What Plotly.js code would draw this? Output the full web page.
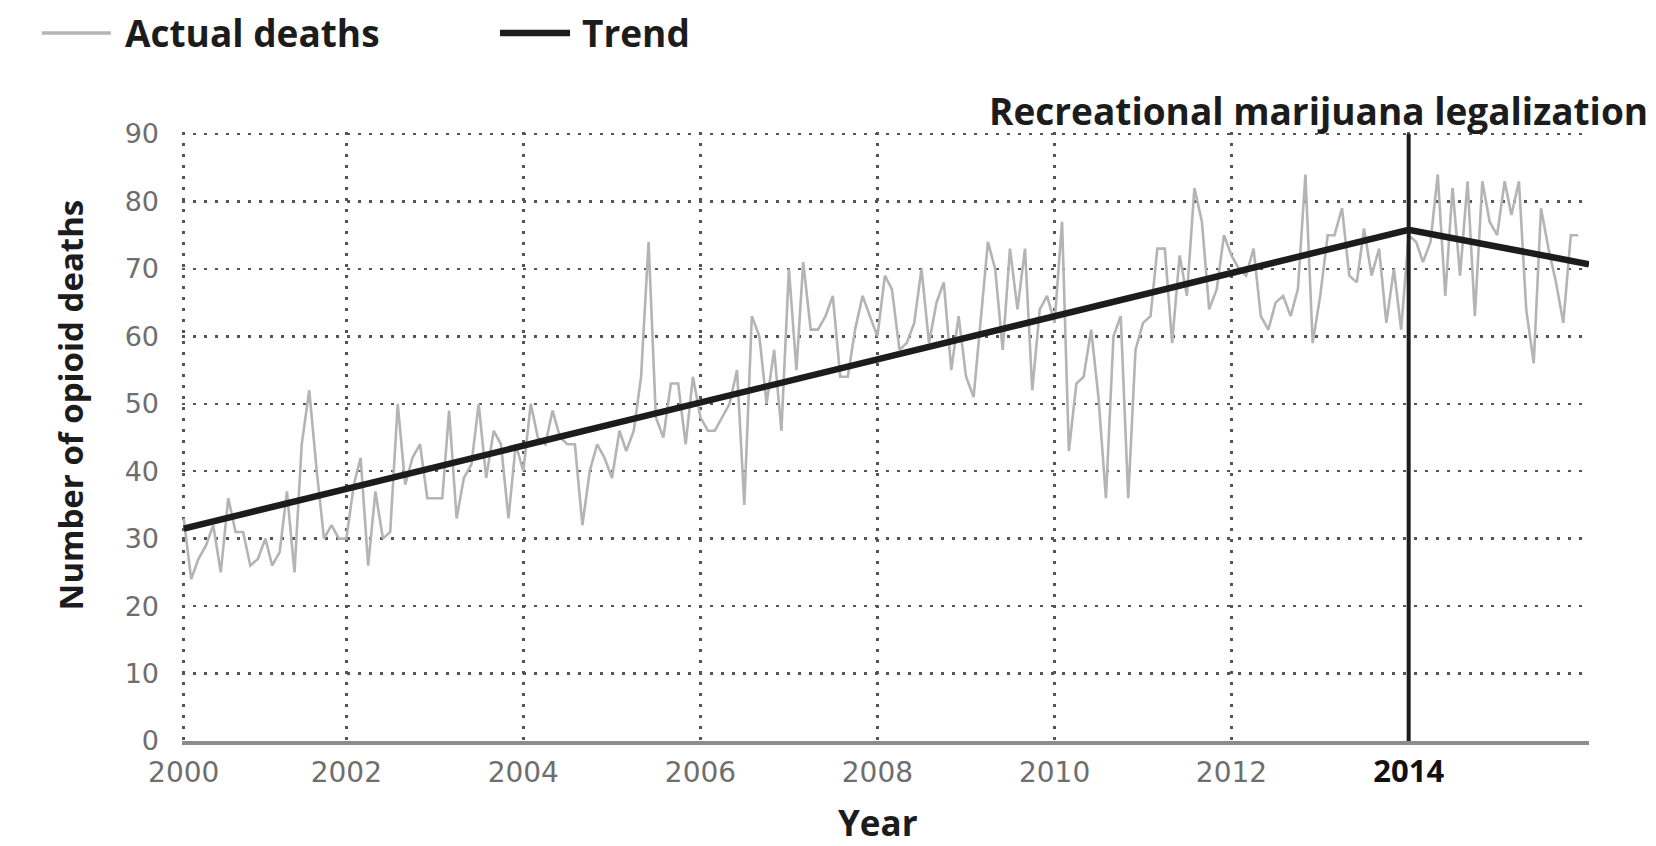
<!DOCTYPE html>
<html>
<head>
<meta charset="utf-8">
<script src="https://cdn.plot.ly/plotly-3.0.1.min.js"></script>
<style>
  html, body { margin: 0; padding: 0; background: #ffffff; }
  #chart { width: 1656px; height: 846px; }
</style>
</head>
<body>
<div id="chart"></div>
<script>
// ---- Data (monthly opioid deaths, first value March 2000) ----
const firstMonth = '2000-03';
const actualDeaths = [
  33, 24, 27, 29, 32, 25, 36, 31, 31, 26, 27, 30, 26, 28, 37, 25, 44, 52, 40, 30, 32, 30,
  30, 38, 42, 26, 37, 30, 31, 50, 38, 42, 44, 36, 36, 36, 49, 33, 39, 41, 50, 39, 46, 44, 33, 44,
  40, 50, 45, 44, 49, 45, 44, 44, 32, 40, 44, 42, 39, 46, 43, 46, 54, 74, 48, 45, 53, 53, 44, 54,
  48, 46, 46, 48, 50, 55, 35, 63, 60, 50, 58, 46, 70, 55, 71, 61, 61, 63, 66, 54, 54, 61, 66, 63,
  60, 69, 67, 58, 59, 62, 70, 59, 65, 68, 55, 63, 54, 51, 62, 74, 70, 58, 73, 64, 73, 52, 64, 66,
  62, 77, 43, 53, 54, 61, 51, 36, 60, 63, 36, 58, 62, 63, 73, 73, 59, 72, 66, 82, 77, 64, 67, 75,
  72, 70, 69, 73, 63, 61, 65, 66, 63, 67, 84, 59, 66, 75, 75, 79, 69, 68, 76, 69, 73, 62, 70, 61,
  75, 74, 71, 74, 84, 66, 82, 69, 83, 63, 83, 77, 75, 83, 78, 83, 64, 56, 79, 73, 68, 62, 75, 75
];
const trendDates = ['2000-03-01', '2014-01-01', '2016-01-15'];
const trendValues = [31.5, 75.8, 70.7];
const legalizationDate = '2014-01-01';
const legalizationLabel = 'Recreational marijuana legalization';
const seriesNames = ['Actual deaths', 'Trend'];
const tickDates = ['2000-03-01', '2002-01-01', '2004-01-01', '2006-01-01', '2008-01-01', '2010-01-01', '2012-01-01', '2014-01-01'];
const tickYears = ['2000', '2002', '2004', '2006', '2008', '2010', '2012', '2014'];
const yTicks = [0, 10, 20, 30, 40, 50, 60, 70, 80, 90];
const xTitle = 'Year';
const yTitle = 'Number of opioid deaths';

// month categories derived from the first month
const [fy, fm] = firstMonth.split('-').map(Number);
const months = actualDeaths.map((_, k) => {
  const t = fm - 1 + k;
  return (fy + Math.floor(t / 12)) + '-' + String((t % 12) + 1).padStart(2, '0') + '-01';
});

const boldFont = 'Open Sans, Liberation Sans, Arial, sans-serif';
const lightFont = 'DejaVu Sans, sans-serif';
const dark = '#1c1c1c';

const traces = [
  {
    x: months, y: actualDeaths, name: seriesNames[0], type: 'scatter', mode: 'lines',
    line: { color: '#b4b4b4', width: 2.6 }, showlegend: false, hoverinfo: 'x+y'
  },
  {
    x: trendDates, y: trendValues, name: seriesNames[1], type: 'scatter', mode: 'lines',
    line: { color: dark, width: 6.5 }, showlegend: false
  }
];

const tickText = tickYears.map(t => t === '2014'
  ? '<span style="font-family:Open Sans, Arial;font-weight:bold;font-size:31px;fill:#111111">' + t + '</span>'
  : t);

// plot area: x 182..1589 px, y 132..741 px
const legendY = 1.1626;
const layout = {
  width: 1656, height: 846,
  margin: { l: 182, r: 67, t: 132, b: 105, pad: 0 },
  paper_bgcolor: '#ffffff', plot_bgcolor: '#ffffff',
  showlegend: false,
  xaxis: {
    type: 'date',
    range: ['2000-02-23', '2016-01-15'],
    tickmode: 'array', tickvals: tickDates, ticktext: tickText,
    ticks: '', ticklabelstandoff: 4,
    tickfont: { family: lightFont, size: 28, color: '#6e6e6e' },
    showgrid: true, gridcolor: '#555555', gridwidth: 2.5, griddash: '2.5px,8.5px',
    showline: true, linecolor: '#8c8c8c', linewidth: 3.5,
    zeroline: false, fixedrange: true
  },
  yaxis: {
    range: [0, 90.3],
    tickmode: 'array', tickvals: yTicks,
    ticks: '', ticklabelstandoff: 22,
    tickfont: { family: lightFont, size: 27, color: '#6e6e6e' },
    showgrid: true, gridcolor: '#555555', gridwidth: 2.5, griddash: '2.5px,8.5px',
    showline: false, zeroline: false, fixedrange: true
  },
  shapes: [
    { type: 'line', xref: 'x', yref: 'y', x0: legalizationDate, x1: legalizationDate, y0: 0, y1: 90,
      line: { color: dark, width: 4 }, layer: 'above' },
    { type: 'line', xref: 'paper', yref: 'paper', x0: -0.0996, x1: -0.0505, y0: legendY, y1: legendY,
      line: { color: '#b4b4b4', width: 3.5 } },
    { type: 'line', xref: 'paper', yref: 'paper', x0: 0.2260, x1: 0.2758, y0: legendY, y1: legendY,
      line: { color: dark, width: 6.5 } }
  ],
  annotations: [
    { text: seriesNames[0], xref: 'paper', yref: 'paper', x: -0.0420, y: legendY, xanchor: 'left', yanchor: 'middle',
      showarrow: false, font: { family: boldFont, size: 37, color: dark, weight: 700 } },
    { text: seriesNames[1], xref: 'paper', yref: 'paper', x: 0.2830, y: legendY, xanchor: 'left', yanchor: 'middle',
      showarrow: false, font: { family: boldFont, size: 37, color: dark, weight: 700 } },
    { text: legalizationLabel, xref: 'paper', yref: 'paper', x: 1.0434, y: 1.036, xanchor: 'right', yanchor: 'middle',
      showarrow: false, font: { family: boldFont, size: 37, color: dark, weight: 700 } },
    { text: yTitle, xref: 'paper', yref: 'paper', x: -0.0796, y: 0.551, xanchor: 'center', yanchor: 'middle',
      textangle: -90, showarrow: false, font: { family: boldFont, size: 33, color: dark, weight: 700 } },
    { text: xTitle, xref: 'paper', yref: 'paper', x: 0.4944, y: -0.1346, xanchor: 'center', yanchor: 'middle',
      showarrow: false, font: { family: boldFont, size: 35, color: dark, weight: 700 } }
  ]
};

Plotly.newPlot('chart', traces, layout, { displayModeBar: false, staticPlot: true });
</script>
</body>
</html>
